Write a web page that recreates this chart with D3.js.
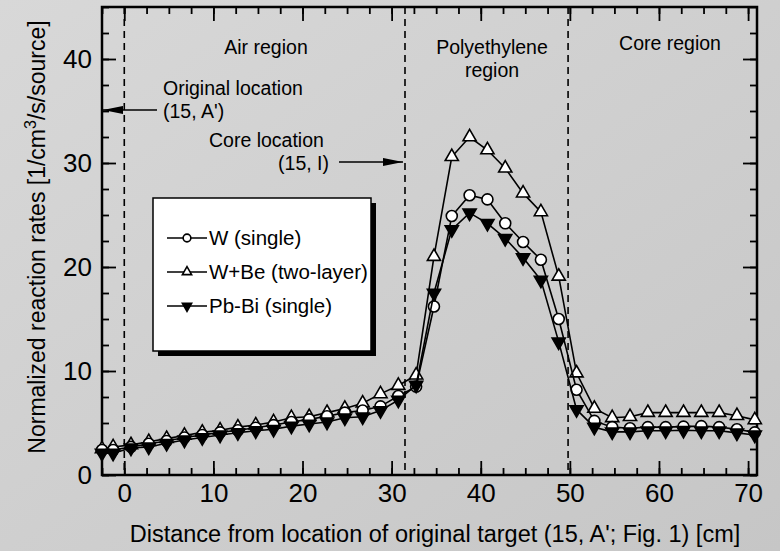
<!DOCTYPE html>
<html>
<head>
<meta charset="utf-8">
<script src="https://cdn.jsdelivr.net/npm/d3@7"></script>
<style>
  html, body { margin: 0; padding: 0; }
  svg { display: block; font-family: "Liberation Sans", Arial, sans-serif; }
</style>
</head>
<body>
<div id="chart"></div>
<script>
// distances [cm] where the rates were computed
const distances = [-2.5, -1.25, 0.75, 2.75, 4.75, 6.75, 8.75, 10.75, 12.75, 14.75,
    16.75, 18.75, 20.75, 22.75, 24.75, 26.75, 28.75, 30.75, 32.75, 34.75,
    36.75, 38.75, 40.75, 42.75, 44.75, 46.75, 48.75, 50.75, 52.75, 54.75,
    56.75, 58.75, 60.75, 62.75, 64.75, 66.75, 68.75, 70.75];

const wSingle = [2.4, 2.4, 2.7, 3.0, 3.27, 3.6, 3.85, 4.1, 4.3, 4.55,
    4.8, 5.1, 5.35, 5.65, 6.0, 6.2, 6.6, 7.6, 8.5, 16.2,
    24.9, 26.9, 26.5, 24.2, 22.4, 20.7, 15.0, 8.2, 5.2, 4.6,
    4.5, 4.6, 4.6, 4.65, 4.7, 4.6, 4.4, 4.1];

const wBeTwoLayer = [2.5, 2.7, 2.9, 3.2, 3.5, 3.8, 4.1, 4.3, 4.6, 4.8,
    5.1, 5.5, 5.6, 6.0, 6.4, 6.9, 7.8, 8.6, 9.6, 21.0,
    30.6, 32.5, 31.25, 29.5, 27.1, 25.3, 19.1, 9.8, 6.4, 5.5,
    5.6, 6.0, 6.0, 6.0, 6.0, 6.0, 5.7, 5.3];

const pbBiSingle = [2.1, 2.1, 2.6, 2.7, 3.05, 3.37, 3.6, 3.85, 4.07, 4.26,
    4.4, 4.7, 4.9, 5.1, 5.5, 5.6, 6.2, 7.2, 8.65, 17.5,
    23.6, 25.2, 24.2, 22.75, 20.9, 18.75, 12.8, 6.3, 4.6, 4.15,
    4.15, 4.25, 4.25, 4.3, 4.25, 4.25, 4.05, 3.85];

const seriesNames = ["W (single)", "W+Be (two-layer)", "Pb-Bi (single)"];
const xMajorTicks = [0, 10, 20, 30, 40, 50, 60, 70];
const yMajorTicks = [0, 10, 20, 30, 40];
const regionBounds = [0, 31.5, 49.8];

const svgWidth = 780;
const svgHeight = 551;
const plot = { left: 102, right: 757, top: 7, bottom: 475 };

const svg = d3.select("#chart")
    .append("svg")
    .attr("width", svgWidth)
    .attr("height", svgHeight);

const defs = svg.append("defs");
const grad = defs.append("linearGradient")
    .attr("id", "bg")
    .attr("x1", 0).attr("y1", 0).attr("x2", 1).attr("y2", 1);
grad.append("stop").attr("offset", "0%").attr("stop-color", "#d8d8d8");
grad.append("stop").attr("offset", "100%").attr("stop-color", "#c6c6c6");

defs.append("marker")
    .attr("id", "arrow")
    .attr("viewBox", "0 0 20 8")
    .attr("refX", 20)
    .attr("refY", 4)
    .attr("markerWidth", 20)
    .attr("markerHeight", 8)
    .attr("markerUnits", "userSpaceOnUse")
    .attr("orient", "auto")
    .append("path")
    .attr("d", "M0,0 L20,4 L0,8 Z")
    .attr("fill", "#000");

svg.append("rect")
    .attr("width", svgWidth)
    .attr("height", svgHeight)
    .attr("fill", "url(#bg)");

const x = d3.scaleLinear().domain([-2.5, 71]).range([plot.left, plot.right]);
const y = d3.scaleLinear().domain([0, 45]).range([plot.bottom, plot.top]);

const xMinor = d3.range(-2.5, 71.01, 2.5);
const yMinor = d3.range(0, 45.01, 2.5);

function tickAxis(axis, g) {
    g.call(axis);
    g.select(".domain").remove();
    g.selectAll(".tick line").attr("stroke", "#000").attr("stroke-width", 1.8);
}

// minor ticks, all four sides, inward
tickAxis(d3.axisBottom(x).tickValues(xMinor).tickSize(-7).tickFormat(""),
    svg.append("g").attr("transform", `translate(0,${plot.bottom})`));
tickAxis(d3.axisTop(x).tickValues(xMinor).tickSize(-7).tickFormat(""),
    svg.append("g").attr("transform", `translate(0,${plot.top})`));
tickAxis(d3.axisLeft(y).tickValues(yMinor).tickSize(-7).tickFormat(""),
    svg.append("g").attr("transform", `translate(${plot.left},0)`));
tickAxis(d3.axisRight(y).tickValues(yMinor).tickSize(-7).tickFormat(""),
    svg.append("g").attr("transform", `translate(${plot.right},0)`));

// major ticks with labels
const xAxisG = svg.append("g").attr("transform", `translate(0,${plot.bottom})`);
tickAxis(d3.axisBottom(x).tickValues(xMajorTicks).tickSize(-14).tickPadding(9), xAxisG);
tickAxis(d3.axisTop(x).tickValues(xMajorTicks).tickSize(-14).tickFormat(""),
    svg.append("g").attr("transform", `translate(0,${plot.top})`));
const yAxisG = svg.append("g").attr("transform", `translate(${plot.left},0)`);
tickAxis(d3.axisLeft(y).tickValues(yMajorTicks).tickSize(-14).tickPadding(10), yAxisG);
tickAxis(d3.axisRight(y).tickValues(yMajorTicks).tickSize(-14).tickFormat(""),
    svg.append("g").attr("transform", `translate(${plot.right},0)`));

svg.selectAll(".tick text")
    .attr("fill", "#000")
    .style("font-size", "26px")
    .style("font-family", "'Liberation Sans', Arial, sans-serif");

// region boundaries
svg.append("g")
    .selectAll("line")
    .data(regionBounds)
    .enter()
    .append("line")
    .attr("x1", d => x(d))
    .attr("x2", d => x(d))
    .attr("y1", plot.top)
    .attr("y2", plot.bottom)
    .attr("stroke", "#000")
    .attr("stroke-width", 1.6)
    .attr("stroke-dasharray", "7,5");

// frame
svg.append("rect")
    .attr("x", plot.left)
    .attr("y", plot.top)
    .attr("width", plot.right - plot.left)
    .attr("height", plot.bottom - plot.top)
    .attr("fill", "none")
    .attr("stroke", "#000")
    .attr("stroke-width", 2.5);

// annotations
const ann = svg.append("g").style("font-size", "19.5px").attr("fill", "#000");
ann.append("text").attr("x", 266).attr("y", 54).attr("text-anchor", "middle").text("Air region");
ann.append("text").attr("x", 492).attr("y", 54).attr("text-anchor", "middle").text("Polyethylene");
ann.append("text").attr("x", 492).attr("y", 77).attr("text-anchor", "middle").text("region");
ann.append("text").attr("x", 670).attr("y", 50).attr("text-anchor", "middle").text("Core region");
ann.append("text").attr("x", 163).attr("y", 95).text("Original location");
ann.append("text").attr("x", 163).attr("y", 118).text("(15, A')");
ann.append("text").attr("x", 209).attr("y", 147).text("Core location");
ann.append("text").attr("x", 329).attr("y", 170).attr("text-anchor", "end").text("(15, I)");

svg.append("line")
    .attr("x1", 157).attr("y1", y(35.1))
    .attr("x2", plot.left + 1).attr("y2", y(35.1))
    .attr("stroke", "#000").attr("stroke-width", 1.6)
    .attr("marker-end", "url(#arrow)");
svg.append("line")
    .attr("x1", 339).attr("y1", y(30.1))
    .attr("x2", x(regionBounds[1]) - 2).attr("y2", y(30.1))
    .attr("stroke", "#000").attr("stroke-width", 1.6)
    .attr("marker-end", "url(#arrow)");

// series
const triUp = d3.symbol().type(d3.symbolTriangle);
const series = [
    { name: seriesNames[1], values: wBeTwoLayer, shape: "up", fill: "#fff" },
    { name: seriesNames[0], values: wSingle, shape: "circle", fill: "#fff" },
    { name: seriesNames[2], values: pbBiSingle, shape: "down", fill: "#000" }
];

function drawMarker(g, shape, fill, scale) {
    if (shape === "circle") {
        g.append("circle").attr("r", 5.5 * scale)
            .attr("fill", fill).attr("stroke", "#000").attr("stroke-width", 1.6);
    } else {
        g.append("path")
            .attr("d", triUp.size(75 * scale * scale)())
            .attr("transform", shape === "down" ? "rotate(180)" : null)
            .attr("fill", fill).attr("stroke", "#000").attr("stroke-width", 1.6);
    }
}

const line = d3.line()
    .x((d, i) => x(distances[i]))
    .y(d => y(d));

series.forEach(s => {
    const g = svg.append("g");
    g.append("path")
        .datum(s.values)
        .attr("d", line)
        .attr("fill", "none")
        .attr("stroke", "#000")
        .attr("stroke-width", 1.6);
    g.selectAll("g.pt")
        .data(s.values)
        .enter()
        .append("g")
        .attr("class", "pt")
        .attr("transform", (d, i) => `translate(${x(distances[i])},${y(d)})`)
        .each(function () { drawMarker(d3.select(this), s.shape, s.fill, 1); });
});

// legend
const lg = svg.append("g");
lg.append("rect")
    .attr("x", 158).attr("y", 203).attr("width", 218).attr("height", 153)
    .attr("fill", "#000");
lg.append("rect")
    .attr("x", 153).attr("y", 198).attr("width", 218).attr("height", 153)
    .attr("fill", "#fff").attr("stroke", "#000").attr("stroke-width", 1.5);

const legendRows = [
    { name: seriesNames[0], shape: "circle", fill: "#fff" },
    { name: seriesNames[1], shape: "up", fill: "#fff" },
    { name: seriesNames[2], shape: "down", fill: "#000" }
];
legendRows.forEach((r, i) => {
    const cy = 238 + i * 34;
    lg.append("line")
        .attr("x1", 167).attr("x2", 207)
        .attr("y1", cy).attr("y2", cy)
        .attr("stroke", "#000").attr("stroke-width", 1.5);
    drawMarker(lg.append("g").attr("transform", `translate(187,${cy})`), r.shape, r.fill, 0.7);
    lg.append("text")
        .attr("x", 209).attr("y", cy + 7)
        .style("font-size", "20.5px")
        .text(r.name);
});

// axis titles
svg.append("text")
    .attr("x", 435)
    .attr("y", 542)
    .attr("text-anchor", "middle")
    .style("font-size", "23.5px")
    .text("Distance from location of original target (15, A'; Fig. 1) [cm]");

const yt = svg.append("text")
    .attr("transform", "translate(45,237) rotate(-90)")
    .attr("text-anchor", "middle")
    .style("font-size", "23px");
yt.append("tspan").text("Normalized reaction rates [1/cm");
yt.append("tspan").attr("dy", -9).style("font-size", "16px").text("3");
yt.append("tspan").attr("dy", 9).text("/s/source]");
</script>
</body>
</html>
